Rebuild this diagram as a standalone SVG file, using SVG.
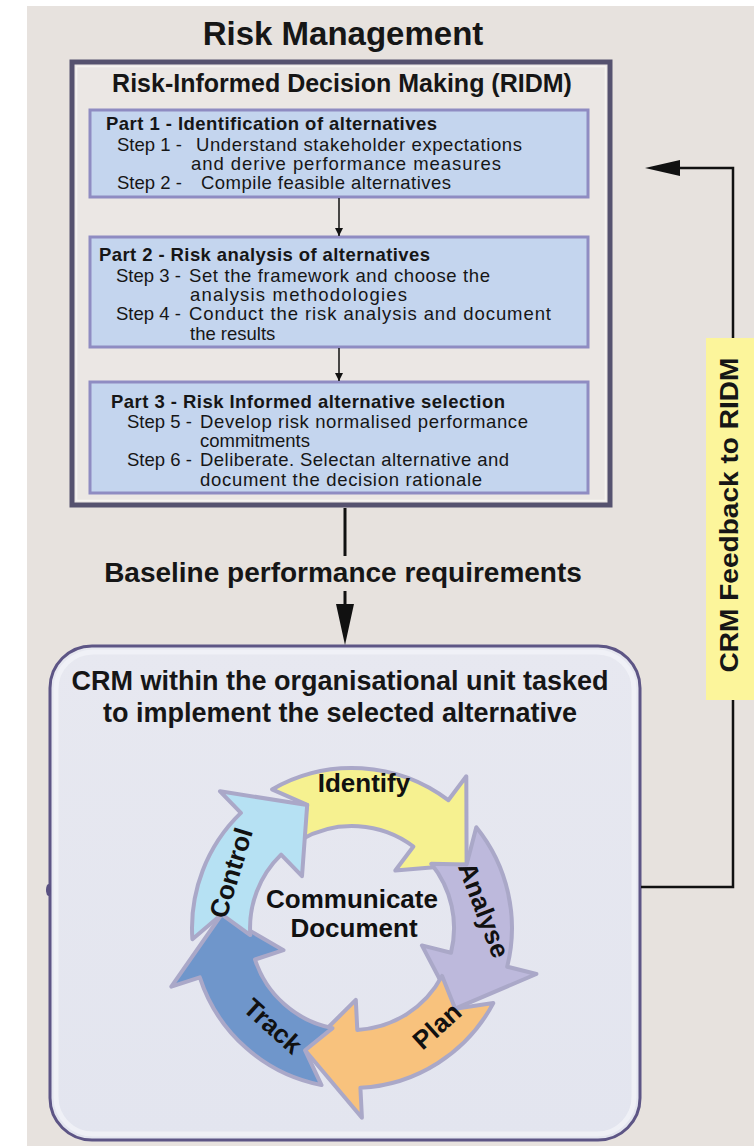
<svg xmlns="http://www.w3.org/2000/svg" width="754" height="1146" viewBox="0 0 754 1146">
  <defs>
    <style>
      .t { font-family: "Liberation Sans", Arial, sans-serif; fill: #161616; }
      .b { font-weight: bold; }
      .step { font-size: 18.5px; }
      .part { fill: #c4d5ee; stroke: #8f8cc2; stroke-width: 3; }
      .cyc { stroke: #aaa8c8; stroke-width: 4; stroke-linejoin: round; }
      .lab { font-family: "Liberation Sans", Arial, sans-serif; font-weight: bold; font-size: 26px; fill: #111; text-anchor: middle; }
      .wire { stroke: #111; fill: none; }
    </style>
    <linearGradient id="crmFill" x1="0" y1="0" x2="0" y2="1">
      <stop offset="0" stop-color="#e7e8f0"/>
      <stop offset="1" stop-color="#e3e5ef"/>
    </linearGradient>
    <marker id="smallHead" viewBox="0 0 10 10" refX="10" refY="5" markerWidth="8" markerHeight="8" markerUnits="userSpaceOnUse" orient="auto">
      <path d="M0,0 L10,5 L0,10 Z" fill="#111"/>
    </marker>
  </defs>

  <!-- page -->
  <rect x="0" y="0" width="754" height="1146" fill="#ffffff"/>
  <rect x="27" y="6" width="727" height="1140" fill="#e7e2de"/>

  <text class="t b" x="343" y="45" font-size="33" text-anchor="middle">Risk Management</text>

  <!-- RIDM frame -->
  <g id="ridm">
    <rect x="72" y="62" width="538" height="443" fill="#ebe7e4" stroke="#56526f" stroke-width="5"/>
    <rect x="76.5" y="66.5" width="529" height="434" fill="none" stroke="#f6f4f1" stroke-width="1.5"/>
    <text class="t b" x="342" y="92" font-size="25" text-anchor="middle">Risk-Informed Decision Making (RIDM)</text>
  </g>

  <g id="part1">
    <rect class="part" x="90" y="110" width="498" height="87"/>
    <text class="t b step" x="106" y="130" textLength="331">Part 1 - Identification of alternatives</text>
    <text class="t step" x="117" y="151">Step 1 -</text>
    <text class="t step" x="196" y="151" textLength="326">Understand stakeholder expectations</text>
    <text class="t step" x="191" y="170" textLength="310">and derive performance measures</text>
    <text class="t step" x="117" y="189">Step 2 -</text>
    <text class="t step" x="201" y="189" textLength="250">Compile feasible alternatives</text>
  </g>

  <g id="part2">
    <rect class="part" x="90" y="237" width="498" height="110"/>
    <text class="t b step" x="99" y="261" textLength="331">Part 2 - Risk analysis of alternatives</text>
    <text class="t step" x="116" y="282">Step 3 -</text>
    <text class="t step" x="189" y="282" textLength="301">Set the framework and choose the</text>
    <text class="t step" x="190" y="301" textLength="217">analysis methodologies</text>
    <text class="t step" x="116" y="320">Step 4 -</text>
    <text class="t step" x="189" y="320" textLength="362">Conduct the risk analysis and document</text>
    <text class="t step" x="190" y="340">the results</text>
  </g>

  <g id="part3">
    <rect class="part" x="90" y="382" width="498" height="111"/>
    <text class="t b step" x="111" y="408" textLength="394">Part 3 - Risk Informed alternative selection</text>
    <text class="t step" x="127" y="428">Step 5 -</text>
    <text class="t step" x="200" y="428" textLength="328">Develop risk normalised performance</text>
    <text class="t step" x="200" y="447">commitments</text>
    <text class="t step" x="127" y="466">Step 6 -</text>
    <text class="t step" x="200" y="466" textLength="309">Deliberate. Selectan alternative and</text>
    <text class="t step" x="200" y="486" textLength="282">document the decision rationale</text>
  </g>

  <!-- CRM unit -->
  <g id="crm">
    <rect x="50" y="646" width="590" height="494" rx="42" fill="url(#crmFill)" stroke="#5d5585" stroke-width="3"/>
    <rect x="56" y="652" width="578" height="482" rx="37" fill="none" stroke="#f4f5fa" stroke-width="5" opacity="0.7"/>
    <ellipse cx="48.5" cy="890" rx="2.5" ry="6" fill="#5a5182"/>
    <text class="t b" x="340" y="690" font-size="27" text-anchor="middle">CRM within the organisational unit tasked</text>
    <text class="t b" x="340" y="722" font-size="27" text-anchor="middle">to implement the selected alternative</text>
  </g>

  <!-- CRM cycle: five ring arrows, each head nesting in the next tail notch -->
  <g id="cycle">
    <g id="identify">
      <path class="cyc" fill="#f6f190" d="M272.0,789.4 A160,160 0 0 1 448.3,800.2 L466.3,776.3 L466.6,864.5 L395.3,870.5 L413.4,846.5 A102,102 0 0 0 301.0,839.7 L307.2,804.9 Z"/>
      <text class="lab" x="364" y="792">Identify</text>
    </g>
    <g id="analyse">
      <path class="cyc" fill="#bdb9dc" d="M476.3,827.3 A160,160 0 0 1 507.2,966.7 L536.4,974.0 L455.2,1008.7 L421.9,945.4 L451.0,952.7 A102,102 0 0 0 431.3,863.8 L466.6,864.5 Z"/>
      <text class="lab" transform="translate(484,910) rotate(69)" y="9">Analyse</text>
    </g>
    <g id="plan">
      <path class="cyc" fill="#f8c27d" d="M493.3,1003.1 A160,160 0 0 1 360.4,1087.8 L361.9,1117.7 L305.1,1050.3 L355.8,999.9 L357.3,1029.9 A102,102 0 0 0 442.1,975.9 L455.2,1008.7 Z"/>
      <text class="lab" transform="translate(437,1026) rotate(-42)" y="9">Plan</text>
    </g>
    <g id="track">
      <path class="cyc" fill="#6f96cb" d="M321.5,1085.1 A160,160 0 0 1 199.8,977.4 L171.3,986.7 L221.7,914.3 L283.5,950.2 L255.0,959.5 A102,102 0 0 0 332.5,1028.1 L305.1,1050.3 Z"/>
      <text class="lab" transform="translate(273,1026) rotate(42)" y="9">Track</text>
    </g>
    <g id="control">
      <path class="cyc" fill="#b6e1f3" d="M192.4,939.2 A160,160 0 0 1 240.9,812.9 L220.0,791.3 L307.2,804.9 L302.0,876.2 L281.1,854.6 A102,102 0 0 0 250.3,935.1 L221.7,914.3 Z"/>
      <text class="lab" transform="translate(231,873) rotate(-73)" y="9">Control</text>
    </g>
    <text class="lab" x="352" y="908" font-size="27">Communicate</text>
    <text class="lab" x="354" y="937" font-size="27">Document</text>
  </g>

  <!-- connectors -->
  <g id="connectors">
    <line class="wire" x1="339" y1="198" x2="339" y2="236" stroke-width="1.5" marker-end="url(#smallHead)"/>
    <line class="wire" x1="339" y1="348" x2="339" y2="381" stroke-width="1.5" marker-end="url(#smallHead)"/>
    <line class="wire" x1="345" y1="508" x2="345" y2="556" stroke-width="3"/>
    <line class="wire" x1="345" y1="591" x2="345" y2="608" stroke-width="3"/>
    <path d="M336,604 L354,604 L345,645 Z" fill="#111"/>
    <path class="wire" d="M641,887 L733,887 L733,168 L678,168" stroke-width="2.5"/>
    <path d="M680,160 L680,176 L645,168 Z" fill="#111"/>
  </g>

  <text class="t b" x="343" y="582" font-size="28" text-anchor="middle">Baseline performance requirements</text>

  <g id="feedback-label">
    <rect x="706" y="338" width="48" height="362" fill="#fcf59b"/>
    <text class="t b" transform="translate(738,515) rotate(-90)" x="0" y="0" font-size="26" text-anchor="middle" textLength="315" lengthAdjust="spacingAndGlyphs">CRM Feedback to RIDM</text>
  </g>
</svg>
